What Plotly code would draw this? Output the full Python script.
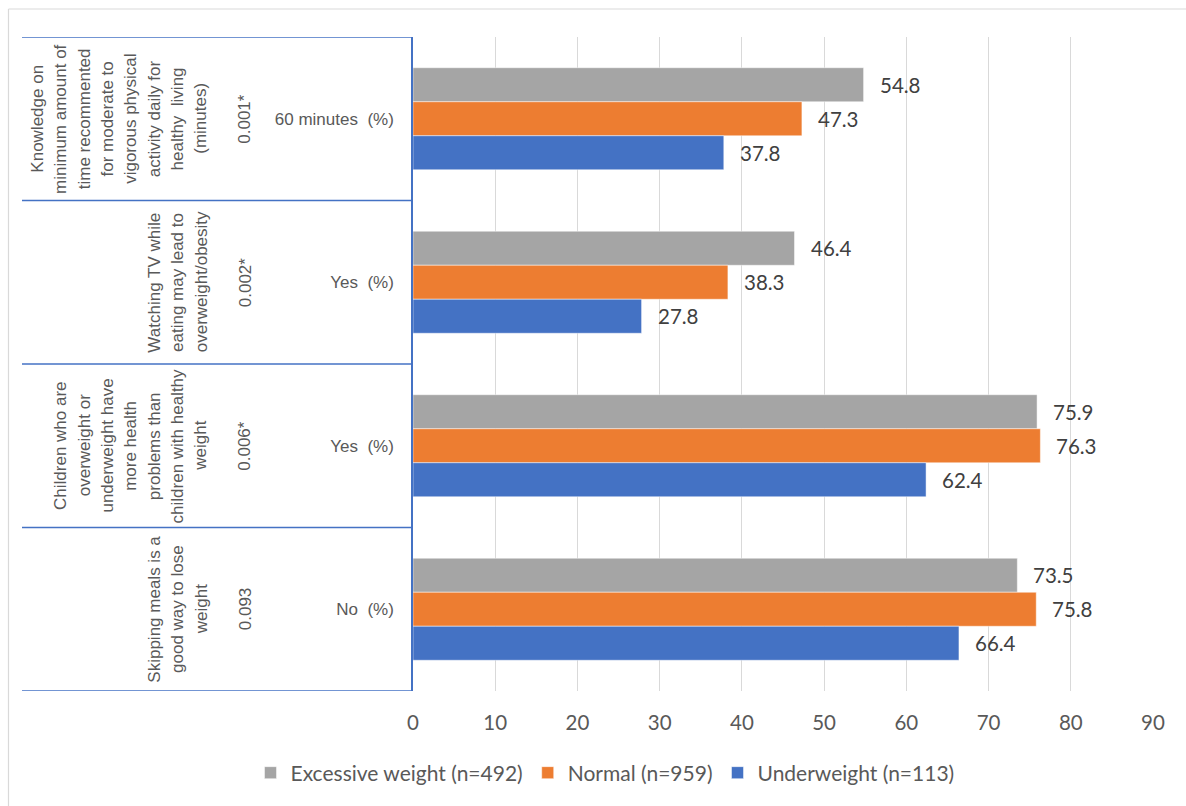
import plotly.graph_objects as go

# Survey items (top to bottom) and the answer reported for each
questions = [
    ["Knowledge on", "minimum amount of", "time recommented", "for moderate to",
     "vigorous physical", "activity daily for", "healthy\u00a0 living", "(minutes)"],
    ["Watching TV while", "eating may lead to", "overweight/obesity"],
    ["Children who are", "overweight or", "underweight have", "more health",
     "problems than", "children with healthy", "weight"],
    ["Skipping meals is a", "good way to lose", "weight"],
]
p_values = ["0.001*", "0.002*", "0.006*", "0.093"]
answers = ["60 minutes\u00a0 (%)", "Yes\u00a0 (%)", "Yes\u00a0 (%)", "No\u00a0 (%)"]

series_names = ["Excessive weight (n=492)", "Normal (n=959)", "Underweight (n=113)"]
excessive = [54.8, 46.4, 75.9, 73.5]
normal = [47.3, 38.3, 76.3, 75.8]
underweight = [37.8, 27.8, 62.4, 66.4]
x_ticks = [0, 10, 20, 30, 40, 50, 60, 70, 80, 90]

colors = ["#A5A5A5", "#ED7D31", "#4472C4"]
SANS = "Liberation Sans, Arial, sans-serif"
CAL = "Lato, Carlito, Calibri, sans-serif"

# plot-area geometry in pixels
FIG_W, FIG_H = 1186, 806
L, R, T, B = 413, 1153, 37, 691
W, H = R - L, B - T


def px_x(px):
    return (px - L) / W


def px_y(py):
    return (B - py) / H


positions = list(range(len(answers)))
BARGAP = 0.376

fig = go.Figure()
for name, vals, col in zip(series_names, [excessive, normal, underweight], colors):
    fig.add_trace(go.Bar(
        y=positions, x=vals, name=name, orientation="h",
        marker=dict(color=col, line=dict(color="rgba(255,255,255,0.6)", width=0.8)),
        hoverinfo="x+name",
    ))

annotations = []
# value labels beside each bar
bw = (1 - BARGAP) / 3
for k, vals in enumerate([excessive, normal, underweight]):
    for i, v in enumerate(vals):
        annotations.append(dict(
            x=v, y=i + (k - 1) * bw, xref="x", yref="y", text=f"{v:.1f}",
            showarrow=False, xanchor="left", yanchor="middle", xshift=14,
            font=dict(family=CAL, size=20.5, color="#404040"),
        ))

# rotated question text and p-values in the left table
LINE_STEP = 23.3
for i, lines in enumerate(questions):
    n = len(lines)
    for j, line in enumerate(lines):
        cx = 201 - (n - 1 - j) * LINE_STEP
        annotations.append(dict(
            x=px_x(cx), y=i, xref="paper", yref="y", text=line, textangle=-90,
            showarrow=False, xanchor="center", yanchor="middle",
            font=dict(family=SANS, size=17, color="#595959"),
        ))
    annotations.append(dict(
        x=px_x(245), y=i, xref="paper", yref="y", text=p_values[i], textangle=-90,
        showarrow=False, xanchor="center", yanchor="middle",
        font=dict(family=SANS, size=17, color="#595959"),
    ))

shapes = []
# table rules between the item rows
for k in range(len(answers) + 1):
    shapes.append(dict(
        type="line", xref="paper", yref="y", x0=px_x(22), x1=0,
        y0=k - 0.5, y1=k - 0.5, line=dict(color="#4472C4", width=1.5),
    ))
# outer frame
shapes.append(dict(type="line", xref="paper", yref="paper",
                   x0=px_x(8.5), x1=px_x(8.5), y0=px_y(9), y1=px_y(FIG_H + 5),
                   line=dict(color="#d9d9d9", width=1.2)))
shapes.append(dict(type="line", xref="paper", yref="paper",
                   x0=px_x(8.5), x1=px_x(FIG_W + 5), y0=px_y(9), y1=px_y(9),
                   line=dict(color="#d9d9d9", width=1.2)))

fig.update_layout(
    width=FIG_W, height=FIG_H,
    margin=dict(l=L, r=FIG_W - R, t=T, b=FIG_H - B, pad=0),
    paper_bgcolor="white", plot_bgcolor="white",
    barmode="group", bargap=BARGAP, bargroupgap=0,
    annotations=annotations, shapes=shapes,
    showlegend=True,
    legend=dict(
        orientation="h", x=px_x(605), xanchor="center",
        y=px_y(773), yanchor="middle",
        font=dict(family=CAL, size=21, color="#595959"),
        bgcolor="rgba(0,0,0,0)",
    ),
    xaxis=dict(
        range=[0, 90], tickvals=x_ticks, showgrid=True, gridcolor="#d9d9d9",
        gridwidth=1.3, zeroline=False, showline=False, ticks="",
        ticklabelstandoff=17,
        tickfont=dict(family=CAL, size=20.5, color="#595959"),
    ),
    yaxis=dict(
        range=[len(answers) - 0.5, -0.5], tickvals=positions, ticktext=answers,
        showgrid=False, zeroline=False, showline=True, linecolor="#4472C4",
        linewidth=1.5, ticks="", ticklabelstandoff=14,
        tickfont=dict(family=SANS, size=17, color="#595959"),
    ),
)

fig.write_html("out.html")
